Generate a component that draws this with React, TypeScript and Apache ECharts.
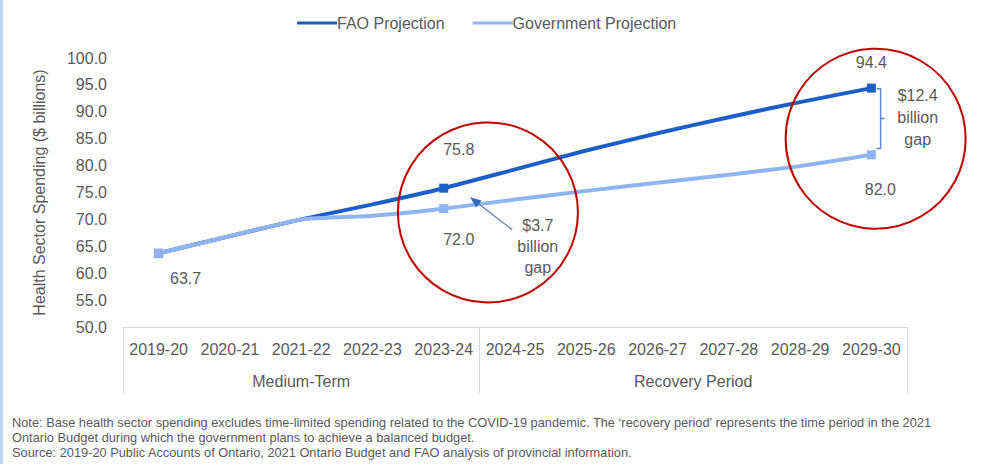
import React, { useEffect, useRef } from "react";
import * as echarts from "echarts";

const categories = [
  "2019-20", "2020-21", "2021-22", "2022-23", "2023-24", "2024-25",
  "2025-26", "2026-27", "2027-28", "2028-29", "2029-30",
];
const faoValues = [63.7, 66.9, 70.0, 72.8, 75.8, 79.3, 82.8, 86.0, 89.0, 91.8, 94.4];
const govValues = [63.7, 66.9, 70.0, 70.7, 72.0, 73.7, 75.3, 76.8, 78.3, 79.9, 82.0];
const seriesNames = ["FAO Projection", "Government Projection"];
const yMin = 50;
const yMax = 100;
const yInterval = 5;
const periodLabels = ["Medium-Term", "Recovery Period"];
const periodBounds = [0, 5, 11];
const markerIndices = [0, 4, 10];
const faoLabelIndices = [4, 10];
const govLabelIndices = [0, 4, 10];
const gapNotes = ["$3.7\nbillion\ngap", "$12.4\nbillion\ngap"];
const footnotes = [
  "Note: Base health sector spending excludes time-limited spending related to the COVID-19 pandemic. The \u2018recovery period\u2019 represents the time period in the 2021",
  "Ontario Budget during which the government plans to achieve a balanced budget.",
  "Source: 2019-20 Public Accounts of Ontario, 2021 Ontario Budget and FAO analysis of provincial information.",
];

const FONT = "'Liberation Sans', Arial, sans-serif";
const TXT = "#595959";
const DARK = "#1b5ec8";
const LIGHT = "#8fb4ef";
const RED = "#c00000";

const faoOffsets: Record<number, number[]> = { 4: [15, -39], 10: [0, -26] };
const govOffsets: Record<number, number[]> = { 0: [27, 25], 4: [15, 31], 10: [9, 35] };

export default function App() {
  const ref = useRef<HTMLDivElement>(null);
  useEffect(() => {
    if (!ref.current) return;
    const chart = echarts.init(ref.current, undefined, { renderer: "svg" });
    const mkData = (vals: number[], idx: number[], offs: Record<number, number[]>) =>
      vals.map((v, i) =>
        idx.includes(i)
          ? {
              value: v,
              label: {
                show: true,
                position: "inside",
                offset: offs[i],
                formatter: (p: any) => Number(p.value).toFixed(1),
                color: TXT,
                fontSize: 16,
                fontFamily: FONT,
              },
            }
          : v
      );
    const symSize = (_v: any, p: any) => (markerIndices.includes(p.dataIndex) ? 9 : 0);
    const groupLabelAt: Record<number, string> = {};
    periodLabels.forEach((l, i) => {
      groupLabelAt[periodBounds[i] + periodBounds[i + 1]] = l;
    });
    chart.setOption({
      animation: false,
      textStyle: { fontFamily: FONT },
      legend: {
        left: 292,
        top: 10,
        icon: "rect",
        itemWidth: 40,
        itemHeight: 3,
        itemGap: 28,
        textStyle: { color: TXT, fontSize: 16, fontFamily: FONT, padding: [0, 0, 0, -5] },
        data: seriesNames,
      },
      grid: { left: 123, right: 81, top: 58, bottom: 137, containLabel: false },
      xAxis: [
        {
          type: "category",
          data: categories,
          boundaryGap: true,
          axisLine: { show: true, lineStyle: { color: "#d9d9d9", width: 1 } },
          axisTick: {
            show: true,
            length: 66,
            interval: (i: number) => periodBounds.includes(i),
            lineStyle: { color: "#d9d9d9", width: 1 },
          },
          axisLabel: { color: TXT, fontSize: 16, margin: 14, interval: 0, fontFamily: FONT },
        },
        {
          type: "value",
          position: "bottom",
          min: 0,
          max: periodBounds[periodBounds.length - 1] * 2,
          interval: 1,
          axisLine: { show: false },
          axisTick: { show: false },
          splitLine: { show: false },
          axisLabel: {
            color: TXT,
            fontSize: 16,
            margin: 46,
            fontFamily: FONT,
            formatter: (v: number) => groupLabelAt[v] || "",
          },
        },
      ],
      yAxis: {
        type: "value",
        min: yMin,
        max: yMax,
        interval: yInterval,
        name: "Health Sector Spending ($ billions)",
        nameLocation: "middle",
        nameGap: 76,
        nameTextStyle: { color: TXT, fontSize: 16, fontFamily: FONT },
        axisLine: { show: false },
        axisTick: { show: false },
        splitLine: { show: false },
        axisLabel: {
          color: TXT,
          fontSize: 16,
          margin: 16,
          fontFamily: FONT,
          formatter: (v: number) => v.toFixed(1),
        },
      },
      series: [
        {
          name: seriesNames[0],
          type: "line",
          data: mkData(faoValues, faoLabelIndices, faoOffsets),
          color: DARK,
          smooth: 0.2,
          symbol: "rect",
          symbolSize: symSize,
          showAllSymbol: true,
          lineStyle: { width: 4, color: DARK },
          itemStyle: { color: DARK },
          z: 2,
        },
        {
          name: seriesNames[1],
          type: "line",
          data: mkData(govValues, govLabelIndices, govOffsets),
          color: LIGHT,
          smooth: 0.15,
          symbol: "rect",
          symbolSize: symSize,
          showAllSymbol: true,
          lineStyle: { width: 4, color: LIGHT },
          itemStyle: { color: LIGHT },
          z: 3,
        },
      ],
    });

    const px = (cat: number, val: number) => {
      const a = chart.convertToPixel({ xAxisIndex: 0, yAxisIndex: 0 }, [0, val]) as number[];
      const b = chart.convertToPixel({ xAxisIndex: 0, yAxisIndex: 0 }, [1, val]) as number[];
      return [a[0] + (b[0] - a[0]) * cat, a[1]];
    };

    const c1 = px(4.62, 71.3);
    const c2 = px(10.06, 85.0);
    const tip = px(4.37, 74.1);
    const tail = px(4.96, 68.1);
    const ang = Math.atan2(tip[1] - tail[1], tip[0] - tail[0]);
    const hl = 11;
    const hw = 4.5;
    const base = [tip[0] - hl * Math.cos(ang), tip[1] - hl * Math.sin(ang)];
    const head = [
      tip,
      [base[0] + hw * Math.sin(ang), base[1] - hw * Math.cos(ang)],
      [base[0] - hw * Math.sin(ang), base[1] + hw * Math.cos(ang)],
    ];
    const bTop = px(10.13, 94.3);
    const bBot = px(10.13, 83.2);
    const bMid = [bTop[0], (bTop[1] + bBot[1]) / 2];
    const n1 = px(5.32, 65.0);
    const n2 = px(10.65, 88.9);

    const graphics: any[] = [
      { type: "rect", shape: { x: 0, y: 0, width: 3, height: 464 }, style: { fill: "#bdd7f3" }, silent: true },
      { type: "circle", shape: { cx: c1[0], cy: c1[1], r: 90 }, style: { fill: "none", stroke: RED, lineWidth: 2 }, z: 10 },
      { type: "circle", shape: { cx: c2[0], cy: c2[1], r: 90 }, style: { fill: "none", stroke: RED, lineWidth: 2 }, z: 10 },
      { type: "line", shape: { x1: tail[0], y1: tail[1], x2: base[0], y2: base[1] }, style: { stroke: "#5a7fc4", lineWidth: 1.3 }, z: 10 },
      { type: "polygon", shape: { points: head }, style: { fill: "#3868c4" }, z: 10 },
      {
        type: "polyline",
        shape: { points: [[bTop[0] - 4, bTop[1]], bTop, bBot, [bBot[0] - 4, bBot[1]]] },
        style: { stroke: "#5b8ee0", lineWidth: 1.5, fill: "none" },
        z: 10,
      },
      { type: "line", shape: { x1: bMid[0], y1: bMid[1], x2: bMid[0] + 4, y2: bMid[1] }, style: { stroke: "#5b8ee0", lineWidth: 1.5 }, z: 10 },
      {
        type: "text",
        x: n1[0],
        y: n1[1],
        style: { text: gapNotes[0], fill: TXT, font: `16px ${FONT}`, align: "center", verticalAlign: "middle", lineHeight: 21 },
        z: 10,
      },
      {
        type: "text",
        x: n2[0],
        y: n2[1],
        style: { text: gapNotes[1], fill: TXT, font: `16px ${FONT}`, align: "center", verticalAlign: "middle", lineHeight: 22 },
        z: 10,
      },
      ...footnotes.map((t, i) => ({
        type: "text",
        x: 12,
        y: 422 + i * 15,
        style: { text: t, fill: TXT, font: `12.8px ${FONT}`, align: "left", verticalAlign: "middle" },
      })),
    ];
    chart.setOption({ graphic: graphics });
    return () => chart.dispose();
  }, []);
  return (
    <div
      ref={ref}
      style={{ position: "fixed", left: 0, top: 0, width: 988, height: 464, background: "#fff" }}
    />
  );
}
